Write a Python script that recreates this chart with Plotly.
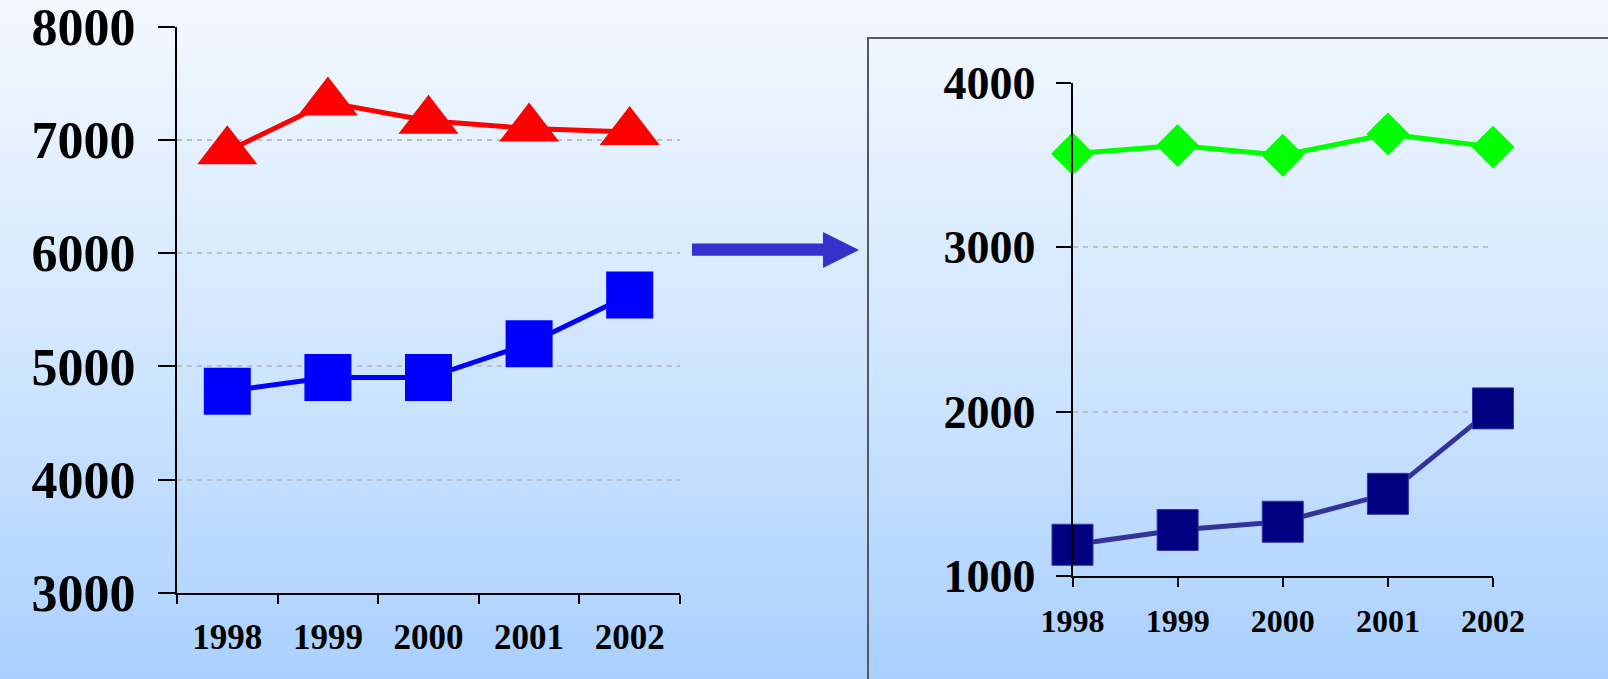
import plotly.graph_objects as go

W, H = 1608, 679

# ---- data ----
years = ["1998", "1999", "2000", "2001", "2002"]
left_red = [6900, 7330, 7170, 7100, 7070]
left_blue = [4780, 4900, 4900, 5200, 5630]
right_green = [3570, 3620, 3560, 3690, 3610]
right_navy = [1190, 1280, 1330, 1500, 2020]
left_yticks = [3000, 4000, 5000, 6000, 7000, 8000]
right_yticks = [1000, 2000, 3000, 4000]


def px(x):
    return x / W


def py(y):
    return 1 - y / H


fig = go.Figure()

fig.add_trace(go.Scatter(x=years, y=left_red, mode="lines+markers", xaxis="x", yaxis="y",
                         line=dict(color="#FF0000", width=5),
                         marker=dict(symbol="triangle-up", size=52, color="#FF0000"),
                         cliponaxis=False, showlegend=False))
fig.add_trace(go.Scatter(x=years, y=left_blue, mode="lines+markers", xaxis="x", yaxis="y",
                         line=dict(color="#0000FF", width=5),
                         marker=dict(symbol="square", size=47, color="#0000FF"),
                         cliponaxis=False, showlegend=False))
fig.add_trace(go.Scatter(x=years, y=right_green, mode="lines+markers", xaxis="x2", yaxis="y2",
                         line=dict(color="#00FF00", width=5),
                         marker=dict(symbol="diamond", size=33, color="#00FF00"),
                         cliponaxis=False, showlegend=False))
fig.add_trace(go.Scatter(x=years, y=right_navy, mode="lines+markers", xaxis="x2", yaxis="y2",
                         line=dict(color="#333399", width=5),
                         marker=dict(symbol="square", size=41, color="#000080",
                                     line=dict(color="#3333AA", width=1)),
                         cliponaxis=False, showlegend=False))

shapes = []
# background gradient
top = (0xF3, 0xF8, 0xFF)
mid = (0xD2, 0xE7, 0xFF)
bot = (0xAA, 0xD0, 0xFF)
n = 68
for i in range(n):
    t = (i + 0.5) / n
    if t < 0.5:
        a, b, u = top, mid, t / 0.5
    else:
        a, b, u = mid, bot, (t - 0.5) / 0.5
    c = tuple(round(a[k] + (b[k] - a[k]) * u) for k in range(3))
    shapes.append(dict(type="rect", xref="paper", yref="paper", layer="below",
                       x0=0, x1=1, y0=py(i * H / n), y1=py((i + 1) * H / n + 1),
                       line=dict(width=0), fillcolor="rgb(%d,%d,%d)" % c))
# right box
shapes.append(dict(type="rect", xref="paper", yref="paper", layer="below",
                   x0=px(868), x1=px(1620), y0=py(38), y1=py(690),
                   line=dict(color="#555A60", width=2), fillcolor="rgba(0,0,0,0)"))
# arrow
path = "M %f %f L %f %f L %f %f L %f %f L %f %f L %f %f L %f %f Z" % (
    px(692), py(243.5), px(823), py(243.5), px(823), py(232), px(859), py(250),
    px(823), py(268), px(823), py(255.7), px(692), py(255.7))
shapes.append(dict(type="path", xref="paper", yref="paper", path=path,
                   fillcolor="#3333CC", line=dict(width=0)))

serif = "Liberation Serif, Times New Roman, serif"
grid_dash = "5px,5px"

fig.update_layout(
    width=W, height=H, margin=dict(l=0, r=0, t=0, b=0, pad=0, autoexpand=False),
    paper_bgcolor="#D2E7FF", plot_bgcolor="rgba(0,0,0,0)",
    shapes=shapes,
    xaxis=dict(domain=[px(177), px(680)], type="category", range=[-0.5, 4.5],
               tickson="boundaries", ticks="outside", ticklen=9, tickwidth=2, tickcolor="black",
               showline=True, linecolor="black", linewidth=2, showgrid=False,
               tickfont=dict(family=serif, size=35, color="black", weight="bold"),
               ticklabelstandoff=12, ticklabeloverflow="allow",
               anchor="y", fixedrange=True, automargin=False),
    yaxis=dict(domain=[py(592.7), py(26.7)], range=[3000, 8000], tickvals=left_yticks,
               ticks="outside", ticklen=17, tickwidth=2, tickcolor="black",
               showline=True, linecolor="black", linewidth=2,
               showgrid=True, gridcolor="#BFBFBF", griddash=grid_dash, gridwidth=2,
               zeroline=False,
               tickfont=dict(family=serif, size=52, color="black", weight="bold"),
               ticklabelstandoff=12, ticklabeloverflow="allow",
               anchor="x", fixedrange=True, automargin=False),
    xaxis2=dict(domain=[px(1072.5), px(1493)], type="category", range=[0, 4],
                ticks="outside", ticklen=9, tickwidth=1.5, tickcolor="black",
                showline=True, linecolor="black", linewidth=1.5, showgrid=False,
                tickfont=dict(family=serif, size=32, color="black", weight="bold"),
                ticklabelstandoff=7, ticklabeloverflow="allow",
                anchor="y2", fixedrange=True, automargin=False),
    yaxis2=dict(domain=[py(576), py(83)], range=[1000, 4000], tickvals=right_yticks,
                ticks="outside", ticklen=15, tickwidth=1.5, tickcolor="black",
                showline=True, linecolor="black", linewidth=1.5,
                showgrid=True, gridcolor="#BFBFBF", griddash=grid_dash, gridwidth=2,
                zeroline=False,
                tickfont=dict(family=serif, size=46, color="black", weight="bold"),
                ticklabelstandoff=11, ticklabeloverflow="allow",
                anchor="x2", fixedrange=True, automargin=False),
)

fig.write_html("out.html")
